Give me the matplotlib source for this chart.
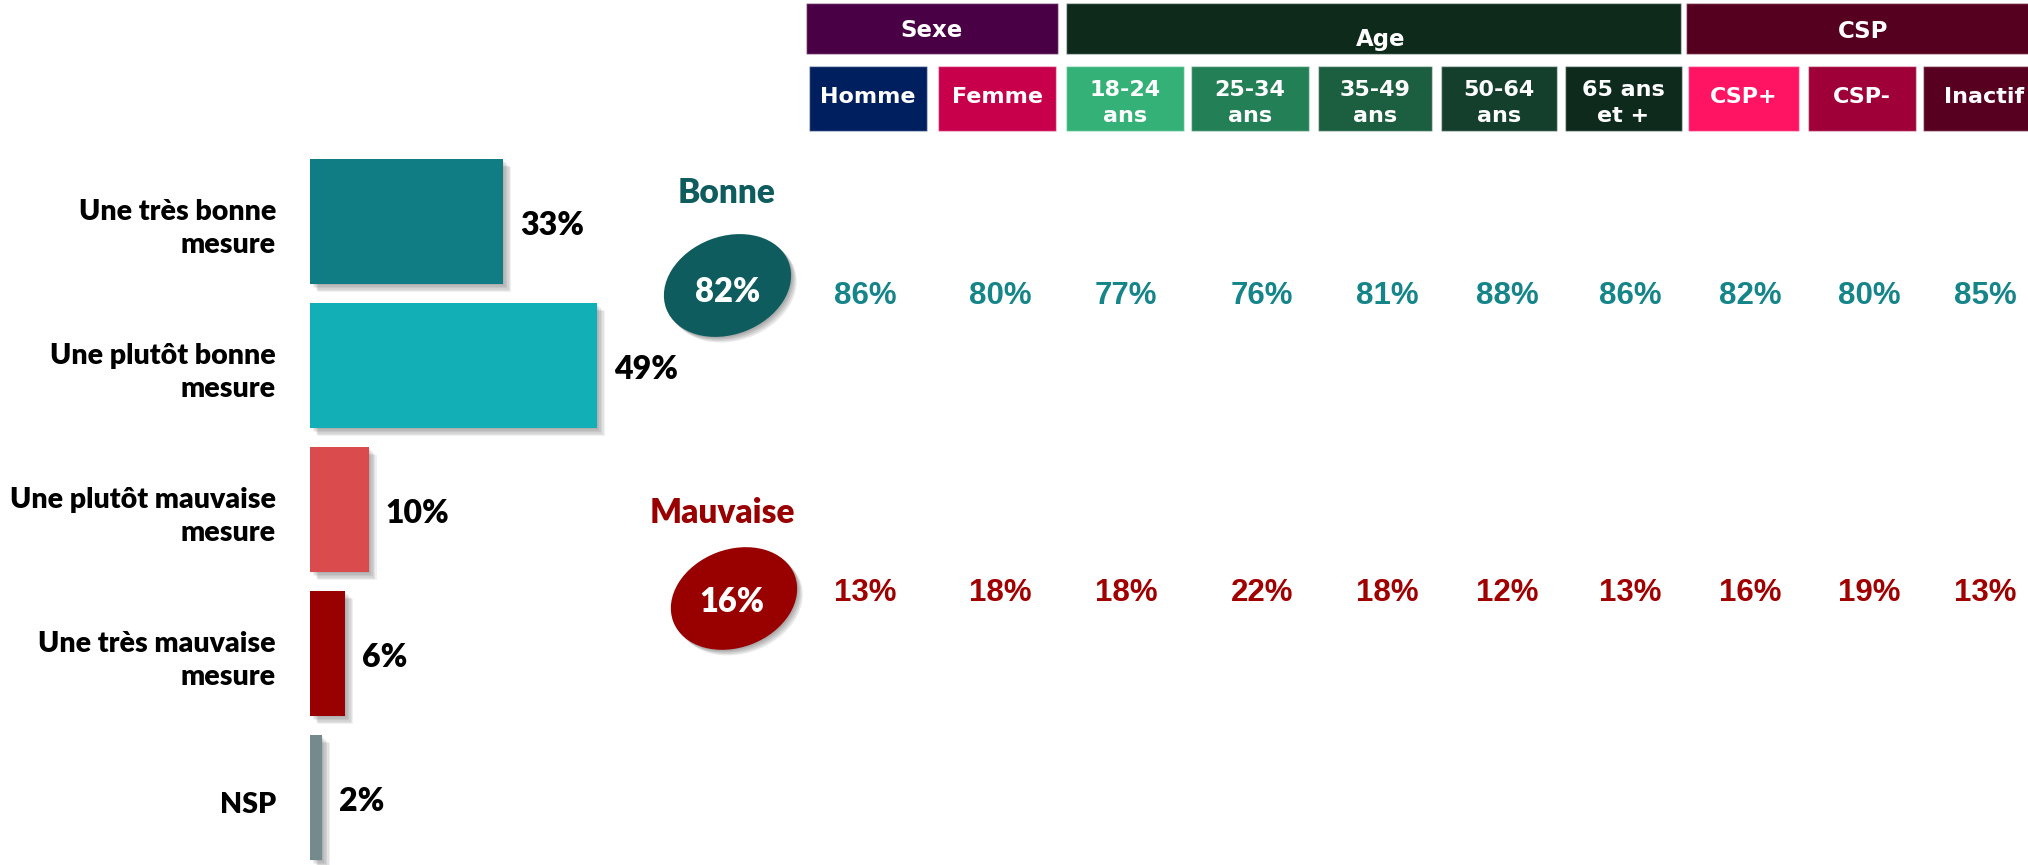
import matplotlib.pyplot as plt
import matplotlib.patheffects as pe
from matplotlib.patches import Rectangle, Ellipse

# data
categories = ['Une très bonne\nmesure', 'Une plutôt bonne\nmesure',
              'Une plutôt mauvaise\nmesure', 'Une très mauvaise\nmesure', 'NSP']
values = [33, 49, 10, 6, 2]
bar_colors = ['#107C83', '#13AFB6', '#D94B4D', '#990000', '#748A8C']

groups = ['Sexe', 'Age', 'CSP']
group_colors = ['#4A0044', '#0D2A1B', '#56001F']
subgroups = ['Homme', 'Femme', '18-24\nans', '25-34\nans', '35-49\nans',
             '50-64\nans', '65 ans\net +', 'CSP+', 'CSP-', 'Inactif']
sub_colors = ['#001F5F', '#C8004C', '#34B176', '#237F55', '#1C5E40',
              '#143F2D', '#0E2A1D', '#FF1464', '#A00038', '#58001F']

bonne_total = 82
mauvaise_total = 16
bonne = [86, 80, 77, 76, 81, 88, 86, 82, 80, 85]
mauvaise = [13, 18, 18, 22, 18, 12, 13, 16, 19, 13]

# layout (pixels)
W, H = 2028, 865
group_x = [(806, 1058), (1066, 1681), (1686, 2045)]
group_txt = [(932, 37), (1381, 46), (1863, 38)]
sub_x = [(809, 927), (938, 1056), (1066, 1184), (1191, 1309), (1318, 1432),
         (1441, 1557), (1565, 1682), (1688, 1799), (1808, 1916), (1923, 2045)]
col_x = [865, 1000, 1126, 1262, 1387, 1507, 1630, 1750, 1869, 1985]

CAL = ['Lato', 'DejaVu Sans']
HDR = ['DejaVu Sans']
ARI = ['Liberation Sans', 'DejaVu Sans']

fig = plt.figure(figsize=(W / 100, H / 100), dpi=100)
ax = fig.add_axes([0, 0, 1, 1])
ax.set_xlim(0, W)
ax.set_ylim(H, 0)
ax.axis('off')

# headers
for (x0, x1), name, col, (tx, ty) in zip(group_x, groups, group_colors, group_txt):
    ax.add_patch(Rectangle((x0, 3), x1 - x0, 51, facecolor=col,
                           edgecolor=(1, 1, 1, 0.45), lw=1))
    ax.text(tx, ty, name, color='white', fontsize=16.5, fontweight='bold',
            family=HDR, ha='center', va='baseline')

for (x0, x1), name, col in zip(sub_x, subgroups, sub_colors):
    ax.add_patch(Rectangle((x0, 66), x1 - x0, 65, facecolor=col,
                           edgecolor=(1, 1, 1, 0.45), lw=1))
    ty = 103 if '\n' in name else 97
    ax.text((x0 + x1) / 2, ty, name, color='white', fontsize=16,
            fontweight='bold', family=HDR, ha='center', va='center',
            linespacing=1.4)

# summary ellipses
def shadow(n=4, a=0.09):
    fx = [pe.SimplePatchShadow(offset=(k, -k), shadow_rgbFace='k', alpha=a)
          for k in range(1, n + 1)]
    return fx + [pe.Normal()]

e1 = Ellipse((727.5, 285.5), 131, 98, angle=-21, facecolor='#0E5C5E',
             path_effects=shadow())
e2 = Ellipse((734, 598.5), 130, 98, angle=-21, facecolor='#990000',
             path_effects=shadow())
ax.add_patch(e1)
ax.add_patch(e2)

ax.text(727, 203, 'Bonne', color='#0E5C5E', fontsize=24, fontweight='heavy',
        family=CAL, ha='center', va='baseline')
ax.text(722, 523, 'Mauvaise', color='#990000', fontsize=24, fontweight='heavy',
        family=CAL, ha='center', va='baseline')
ax.text(728, 302, f'{bonne_total}%', color='white', fontsize=23.5,
        fontweight='heavy', family=CAL, ha='center', va='baseline')
ax.text(732, 612, f'{mauvaise_total}%', color='white', fontsize=23.5,
        fontweight='heavy', family=CAL, ha='center', va='baseline')

for x, b, m in zip(col_x, bonne, mauvaise):
    ax.text(x, 304, f'{b}%', color='#16858A', fontsize=22.5, fontweight='bold',
            family=ARI, ha='center', va='baseline')
    ax.text(x, 601, f'{m}%', color='#A00000', fontsize=22.5, fontweight='bold',
            family=ARI, ha='center', va='baseline')

# bar chart
bx = fig.add_axes([310 / W, (H - 869.5) / H, 585 / W, 720 / H])
bx.set_xlim(0, 100)
bx.set_ylim(4.5, -0.5)
bx.axis('off')
ypos = list(range(len(values)))
bars = bx.barh(ypos, values, height=125 / 144, color=bar_colors)
for b in bars:
    b.set_path_effects(shadow(6, 0.06))

for i, (lab, v) in enumerate(zip(categories, values)):
    bx.text(-5.8, i + 0.05, lab, ha='right', va='center', multialignment='right',
            fontsize=20.5, fontweight='heavy', family=CAL, linespacing=1.35)
    bx.annotate(f'{v}%', xy=(v, i), xytext=(12.5, -9.7),
                textcoords='offset points', ha='left', va='baseline',
                fontsize=23, fontweight='heavy', family=CAL)

fig.savefig('out.png', dpi=100)
